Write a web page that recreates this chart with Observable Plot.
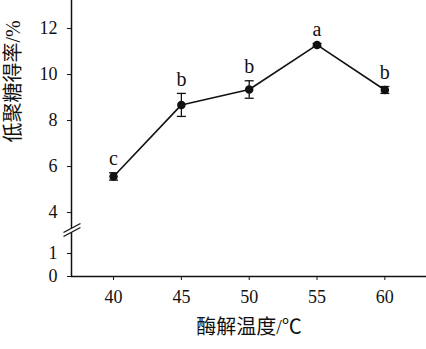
<!DOCTYPE html>
<html>
<head>
<meta charset="utf-8">
<script src="https://cdn.jsdelivr.net/npm/d3@7"></script>
<script src="https://cdn.jsdelivr.net/npm/@observablehq/plot@0.6"></script>
<style>
  html, body { margin: 0; padding: 0; background: #fff; }
  #chart svg { display: block; }
</style>
</head>
<body>
<div id="chart"></div>
<script>
const temps = [40, 45, 50, 55, 60];
const yields = [5.57, 8.68, 9.35, 11.29, 9.33];
const errs = [0.16, 0.5, 0.38, 0.06, 0.15];
const letters = ["c", "b", "b", "a", "b"];
const yTicks = [0, 1, 4, 6, 8, 10, 12];
const xTicks = [40, 45, 50, 55, 60];
const xLabel = "酶解温度/℃";
const yLabel = "低聚糖得率/%";

// broken axis: lower segment 0..2, upper 3.22..13.22
const breakLow = 2, breakHigh = 3.22;
const xMin = 36.9, xMax = 63.07;

const data = temps.map((t, i) => ({t, y: yields[i], e: errs[i], L: letters[i]}));

const breakLines = [
  {x1: 36.31, y1: 1.913, x2: 37.56, y2: 3.524},
  {x1: 36.31, y1: 1.739, x2: 37.56, y2: 3.35}
];
const breakGap = [{x1: 36.31, y1: 1.826, x2: 37.56, y2: 3.437}];

const capSymbol = {
  draw(ctx, size) {
    const r = Math.sqrt(size / Math.PI);
    ctx.moveTo(-r, 0);
    ctx.lineTo(r, 0);
  }
};

const font = "'Liberation Serif', 'Times New Roman', 'Noto Sans CJK SC', serif";

const chart = Plot.plot({
  width: 426,
  height: 349,
  marginLeft: 71,
  marginRight: 0,
  marginTop: 0,
  marginBottom: 73,
  style: {fontFamily: font, fontSize: "18px", color: "#111", background: "#fff"},
  x: {domain: [xMin, xMax]},
  y: {type: "linear", domain: [0, breakLow, breakHigh, 13.22], range: [276, 230, 230, 0]},
  marks: [
    Plot.ruleX([xMin], {stroke: "#111", strokeWidth: 1.5}),
    Plot.ruleY([0], {stroke: "#111", strokeWidth: 1.5}),
    Plot.axisY({ticks: yTicks, tickSize: 4, tickPadding: 10, label: null, fontSize: 18, stroke: "#111"}),
    Plot.axisX({ticks: xTicks, tickSize: 4, tickPadding: 10, label: null, fontSize: 18, stroke: "#111"}),
    Plot.link(breakGap, {x1: "x1", y1: "y1", x2: "x2", y2: "y2", stroke: "white", strokeWidth: 3.5}),
    Plot.link(breakLines, {x1: "x1", y1: "y1", x2: "x2", y2: "y2", stroke: "#111", strokeWidth: 1.3}),
    Plot.line(data, {x: "t", y: "y", stroke: "#111", strokeWidth: 1.6}),
    Plot.ruleX(data, {x: "t", y1: d => d.y - d.e, y2: d => d.y + d.e, stroke: "#111", strokeWidth: 1.3}),
    Plot.dot(data, {x: "t", y: d => d.y - d.e, symbol: capSymbol, r: 4.5, stroke: "#111", strokeWidth: 1.3}),
    Plot.dot(data, {x: "t", y: d => d.y + d.e, symbol: capSymbol, r: 4.5, stroke: "#111", strokeWidth: 1.3}),
    Plot.dot(data, {x: "t", y: "y", r: 3.5, fill: "#111", stroke: "#111"}),
    Plot.text(data, {x: "t", y: d => d.y + d.e, text: "L", dy: -14, fontSize: 20, fill: "#111"}),
    Plot.text([yLabel], {text: d => d, frameAnchor: "left", rotate: -90, dx: -58, dy: 4, fontSize: 20, fill: "#111"}),
    Plot.text([xLabel], {text: d => d, frameAnchor: "bottom", dy: 57, fontSize: 20, fill: "#111"})
  ]
});

document.getElementById("chart").appendChild(chart);
</script>
</body>
</html>
